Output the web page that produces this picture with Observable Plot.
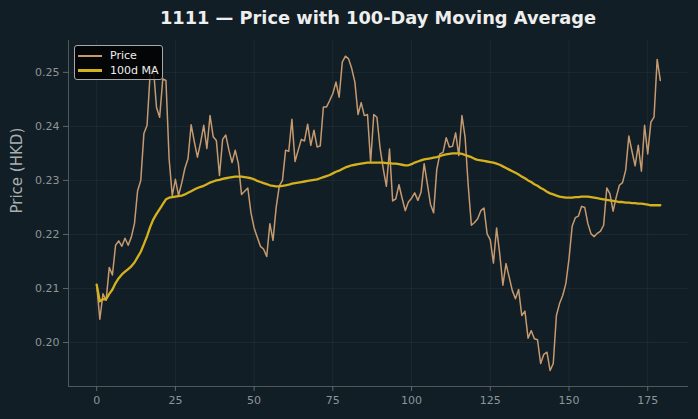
<!DOCTYPE html>
<html><head><meta charset="utf-8">
<script src="https://cdn.jsdelivr.net/npm/d3@7"></script>
<script src="https://cdn.jsdelivr.net/npm/@observablehq/plot@0.6"></script>
<style>
html,body{margin:0;padding:0;background:#111e25;}
#wrap{position:relative;width:698px;height:419px;overflow:hidden;font-family:"DejaVu Sans",sans-serif;}
#title{position:absolute;left:378px;top:9px;transform:translateX(-50%);white-space:nowrap;font-weight:bold;font-size:17.8px;line-height:18px;color:#eeeeee;}
#chart{position:absolute;left:0;top:40px;}
#legend{position:absolute;left:74px;top:45px;width:87px;height:33px;background:rgba(0,0,0,0.82);border:1px solid #a8a8a8;border-radius:3px;font-size:11px;color:#eeeeee;}
.row{position:absolute;left:3px;height:14px;line-height:14px;}
.sw{position:absolute;left:0;top:6px;width:24px;}
.lb{position:absolute;left:32px;top:0;white-space:nowrap;}
</style></head>
<body>
<div id="wrap">
  <div id="title">1111 — Price with 100-Day Moving Average</div>
  <div id="chart"></div>
  <div id="legend">
    <div class="row" style="top:3px"><div class="sw" style="height:2px;background:#c69a70"></div><div class="lb">Price</div></div>
    <div class="row" style="top:18px"><div class="sw" style="height:3px;top:5px;background:#d6b11e"></div><div class="lb">100d MA</div></div>
  </div>
</div>
<script>
const price = [
0.2107,0.2043,0.2090,0.2078,0.2139,0.2125,0.2180,0.2188,0.2178,0.2193,
0.2180,0.2195,0.2220,0.2281,0.2300,0.2387,0.2402,0.2500,0.2510,0.2435,
0.2417,0.2488,0.2485,0.2340,0.2272,0.2302,0.2272,0.2295,0.2322,0.2340,
0.2403,0.2372,0.2343,0.2370,0.2402,0.2359,0.2420,0.2381,0.2374,0.2309,
0.2376,0.2384,0.2356,0.2333,0.2356,0.2331,0.2274,0.2280,0.2286,0.2240,
0.2212,0.2195,0.2178,0.2173,0.2159,0.2220,0.2189,0.2250,0.2290,0.2300,
0.2356,0.2354,0.2413,0.2335,0.2356,0.2376,0.2373,0.2404,0.2365,0.2393,
0.2362,0.2364,0.2436,0.2436,0.2448,0.2461,0.2482,0.2454,0.2519,0.2530,
0.2525,0.2507,0.2482,0.2422,0.2444,0.2420,0.2422,0.2334,0.2422,0.2417,
0.2360,0.2322,0.2289,0.2358,0.2262,0.2266,0.2292,0.2267,0.2244,0.2260,
0.2267,0.2277,0.2263,0.2278,0.2331,0.2294,0.2256,0.2240,0.2320,0.2349,
0.2352,0.2379,0.2362,0.2363,0.2388,0.2346,0.2420,0.2380,0.2290,0.2217,
0.2222,0.2229,0.2244,0.2249,0.2201,0.2190,0.2147,0.2212,0.2164,0.2106,
0.2146,0.2121,0.2096,0.2081,0.2098,0.2050,0.2058,0.2008,0.2022,0.2007,
0.2005,0.1961,0.1978,0.1982,0.1948,0.1961,0.2050,0.2072,0.2087,0.2109,
0.2155,0.2215,0.2231,0.2234,0.2252,0.2250,0.2220,0.2201,0.2196,0.2202,
0.2206,0.2217,0.2286,0.2275,0.2243,0.2269,0.2291,0.2296,0.2319,0.2382,
0.2354,0.2327,0.2365,0.2317,0.2402,0.2349,0.2408,0.2417,0.2524,0.2485
];
const ma100 = [
0.2107,0.2076,0.2080,0.2080,0.2090,0.2098,0.2110,0.2119,0.2126,0.2131,
0.2136,0.2141,0.2148,0.2158,0.2168,0.2182,0.2197,0.2214,0.2228,0.2238,
0.2247,0.2256,0.2265,0.2268,0.2269,0.2270,0.2271,0.2272,0.2274,0.2277,
0.2280,0.2283,0.2286,0.2288,0.2290,0.2293,0.2296,0.2298,0.2300,0.2301,
0.2303,0.2304,0.2305,0.2306,0.2307,0.2307,0.2307,0.2306,0.2305,0.2304,
0.2302,0.2299,0.2297,0.2295,0.2293,0.2291,0.2290,0.2289,0.2289,0.2290,
0.2291,0.2292,0.2294,0.2295,0.2296,0.2297,0.2298,0.2299,0.2300,0.2301,
0.2302,0.2304,0.2306,0.2308,0.2310,0.2313,0.2316,0.2318,0.2321,0.2324,
0.2326,0.2328,0.2329,0.2330,0.2331,0.2332,0.2333,0.2333,0.2333,0.2333,
0.2333,0.2333,0.2332,0.2332,0.2331,0.2331,0.2330,0.2329,0.2328,0.2328,
0.2330,0.2333,0.2335,0.2337,0.2339,0.2340,0.2341,0.2342,0.2343,0.2345,
0.2347,0.2348,0.2349,0.2350,0.2350,0.2350,0.2349,0.2347,0.2345,0.2343,
0.2340,0.2338,0.2337,0.2336,0.2335,0.2334,0.2333,0.2331,0.2329,0.2326,
0.2323,0.2320,0.2317,0.2314,0.2311,0.2307,0.2304,0.2300,0.2297,0.2293,
0.2290,0.2286,0.2283,0.2279,0.2276,0.2274,0.2272,0.2270,0.2269,0.2268,
0.2268,0.2268,0.2269,0.2269,0.2270,0.2270,0.2270,0.2269,0.2268,0.2267,
0.2266,0.2265,0.2264,0.2263,0.2262,0.2261,0.2260,0.2260,0.2259,0.2259,
0.2258,0.2258,0.2257,0.2257,0.2256,0.2255,0.2254,0.2254,0.2254,0.2254
];
const xTicks = [0, 25, 50, 75, 100, 125, 150, 175];
const yTicks = [0.20, 0.21, 0.22, 0.23, 0.24, 0.25];
const yLabel = "Price (HKD)";

const xDomain = [-8.95, 187.95];
const yDomain = [0.19185, 0.2559];

const chart = Plot.plot({
  width: 698,
  height: 379,
  marginTop: 0,
  marginBottom: 33,
  marginLeft: 68,
  marginRight: 10,
  style: {background: "transparent", fontFamily: "DejaVu Sans, sans-serif", fontSize: "11px", color: "#8e9599"},
  x: {domain: xDomain},
  y: {domain: yDomain},
  marks: [
    Plot.gridX(xTicks, {stroke: "#ffffff", strokeOpacity: 0.05}),
    Plot.gridY(yTicks, {stroke: "#ffffff", strokeOpacity: 0.05}),
    Plot.ruleX([xDomain[0]], {stroke: "#50585c", strokeWidth: 1}),
    Plot.ruleY([yDomain[0]], {stroke: "#50585c", strokeWidth: 1}),
    Plot.axisX(xTicks, {tickSize: 5, tickPadding: 5, stroke: "#5f676b", fill: "#8e9599", label: null}),
    Plot.axisY(yTicks, {tickSize: 5, tickPadding: 4, stroke: "#5f676b", fill: "#8e9599", label: null, tickFormat: d3.format(".2f")}),
    Plot.text([yLabel], {frameAnchor: "left", dx: -51, rotate: -90, fontSize: 15, fill: "#a9aeb1"}),
    Plot.lineY(price, {x: (d, i) => i, y: d => d, stroke: "#c69a70", strokeWidth: 1.5}),
    Plot.lineY(ma100, {x: (d, i) => i, y: d => d, stroke: "#d6b11e", strokeWidth: 2.3})
  ]
});
document.getElementById("chart").appendChild(chart);
</script>
</body></html>
